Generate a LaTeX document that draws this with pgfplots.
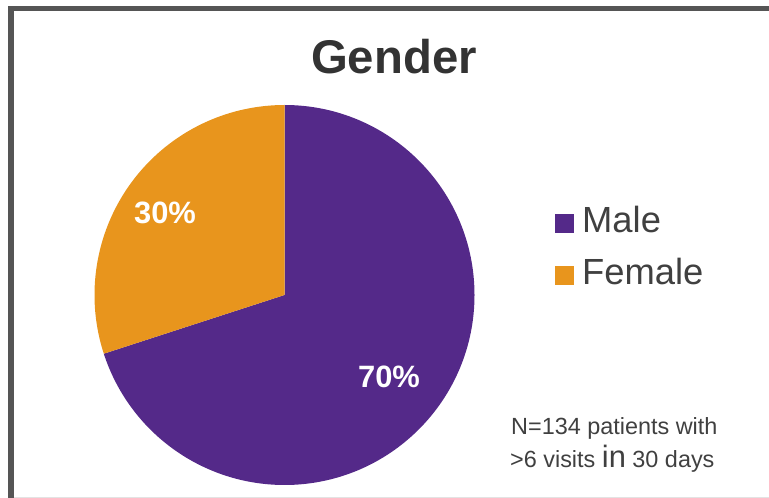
\documentclass[border=0pt]{standalone}
\usepackage{pgfplots}
\pgfplotsset{compat=1.18}
\usepackage{pgfplotstable}
\usepackage{fontspec}
\setmainfont{Liberation Sans}
\definecolor{malecol}{RGB}{84,41,137}
\definecolor{femalecol}{RGB}{232,149,29}
\definecolor{framecol}{RGB}{85,85,85}
\definecolor{titlecol}{RGB}{51,51,51}
\definecolor{textcol}{RGB}{64,64,64}
\pgfplotstableread{
label share
Male 70
Female 30
}\genderdata
\pgfplotstablegetelem{0}{share}\of\genderdata
\pgfmathtruncatemacro{\maleshare}{\pgfplotsretval}
\pgfplotstablegetelem{1}{share}\of\genderdata
\pgfmathtruncatemacro{\femaleshare}{\pgfplotsretval}
\pgfmathsetmacro{\maleend}{90-3.6*\maleshare}
\pgfmathsetmacro{\femaleend}{\maleend-3.6*\femaleshare}
\begin{document}
\begin{tikzpicture}
\begin{axis}[
  width=769bp, height=498bp, scale only axis,
  xmin=0, xmax=769, ymin=0, ymax=498,
  hide axis, clip=true,
]
\path (axis cs:0,0) rectangle (axis cs:769,498);
% frame
\fill[framecol] (axis cs:8,0) rectangle (axis cs:13.5,492);
\fill[framecol] (axis cs:8,486.5) rectangle (axis cs:769,492);
\fill[gray!22] (axis cs:13.5,0) rectangle (axis cs:769,1.2);
% pie
\fill[malecol] (axis cs:284.5,203) -- ++(90:190bp)
  arc[start angle=90, end angle=\maleend, radius=190bp] -- cycle;
\fill[femalecol] (axis cs:284.5,203) -- ++(\maleend:190bp)
  arc[start angle=\maleend, end angle=\femaleend, radius=190bp] -- cycle;
% labels
\node[anchor=base, text=white, font=\fontsize{31}{37}\selectfont\bfseries, inner sep=0pt]
  at (axis cs:165,274) {\femaleshare\%};
\node[anchor=base, text=white, font=\fontsize{31}{37}\selectfont\bfseries, inner sep=0pt]
  at (axis cs:389,110) {\maleshare\%};
% title
\node[anchor=base, text=titlecol, font=\fontsize{47.5}{57}\selectfont\bfseries, inner sep=0pt]
  at (axis cs:394,424) {Gender};
% legend
\fill[malecol] (axis cs:555,265) rectangle (axis cs:574,284);
\fill[femalecol] (axis cs:555,213) rectangle (axis cs:574,232);
\node[anchor=base west, text=textcol, font=\fontsize{36.5}{44}\selectfont, inner sep=0pt]
  at (axis cs:582,265) {Male};
\node[anchor=base west, text=textcol, font=\fontsize{36.5}{44}\selectfont, inner sep=0pt]
  at (axis cs:582,213) {Female};
% note
\node[anchor=base west, text=textcol, font=\fontsize{23.5}{28}\selectfont, inner sep=0pt]
  at (axis cs:511,63) {N=134 patients with};
\node[anchor=base west, text=textcol, font=\fontsize{23.5}{28}\selectfont, inner sep=0pt]
  at (axis cs:510,31) {>6 visits {\fontsize{31}{36}\selectfont in} 30 days};
\end{axis}
\end{tikzpicture}
\end{document}
